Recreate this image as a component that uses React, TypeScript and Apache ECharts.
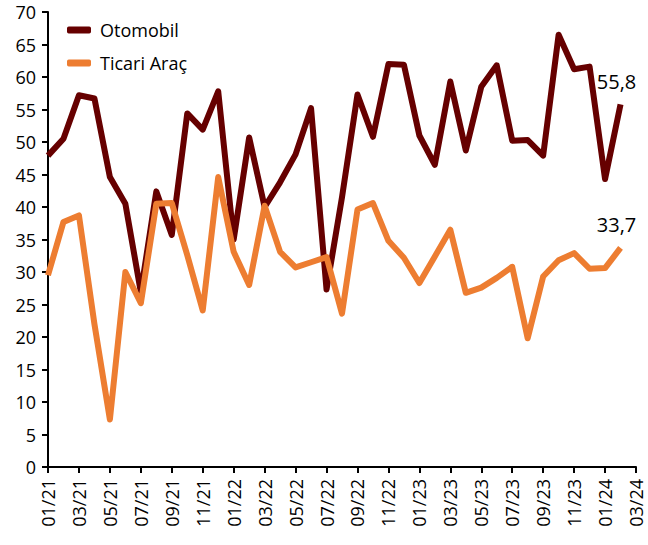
import { useEffect, useRef } from "react";
import * as echarts from "echarts";

const categories = [
  "01/21", "02/21", "03/21", "04/21", "05/21", "06/21", "07/21", "08/21", "09/21", "10/21", "11/21", "12/21",
  "01/22", "02/22", "03/22", "04/22", "05/22", "06/22", "07/22", "08/22", "09/22", "10/22", "11/22", "12/22",
  "01/23", "02/23", "03/23", "04/23", "05/23", "06/23", "07/23", "08/23", "09/23", "10/23", "11/23", "12/23",
  "01/24", "02/24", "03/24",
];

const otomobil = [
  47.9, 50.5, 57.2, 56.7, 44.6, 40.5, 26.9, 42.4, 35.7, 54.4, 51.9, 57.8,
  35.0, 50.7, 40.0, 43.8, 48.1, 55.2, 27.3, 41.5, 57.3, 50.8, 62.0, 61.9,
  51.0, 46.5, 59.3, 48.7, 58.5, 61.8, 50.2, 50.3, 47.9, 66.5, 61.2, 61.6,
  44.3, 55.8,
];

const ticariArac = [
  29.5, 37.7, 38.7, 22.0, 7.3, 30.0, 25.2, 40.5, 40.6, 32.6, 24.1, 44.6,
  33.1, 28.0, 40.2, 33.1, 30.7, 31.5, 32.3, 23.6, 39.6, 40.6, 34.8, 32.2,
  28.3, 32.4, 36.5, 26.8, 27.6, 29.1, 30.8, 19.8, 29.3, 31.8, 32.9, 30.5,
  30.6, 33.7,
];

const seriesNames = ["Otomobil", "Ticari Araç"];
const FONT = "'Open Sans', 'Noto Sans', sans-serif";

function withLastLabel(arr: number[]) {
  return arr.map((v, i) =>
    i === arr.length - 1
      ? {
          value: v,
          label: {
            show: true,
            position: "top",
            distance: 13,
            offset: [-4, 0],
            fontSize: 20,
            fontFamily: FONT,
            color: "#000",
            formatter: (p: any) => String(p.value).replace(".", ","),
          },
        }
      : v
  );
}

export default function App() {
  const ref = useRef<HTMLDivElement>(null);
  useEffect(() => {
    document.body.style.margin = "0";
    const chart = echarts.init(ref.current!, null, { renderer: "svg" });
    chart.setOption({
      animation: false,
      backgroundColor: "#fff",
      textStyle: { fontFamily: FONT },
      grid: { left: 48, right: 12, top: 12, bottom: 78, containLabel: false },
      legend: {
        orient: "vertical",
        left: 62,
        top: 15,
        icon: "roundRect",
        itemWidth: 24,
        itemHeight: 7,
        itemGap: 13,
        data: seriesNames,
        textStyle: {
          fontSize: 18,
          fontFamily: FONT,
          color: "#000",
          lineHeight: 20,
          padding: [0, 0, 0, 4],
        },
      },
      xAxis: {
        type: "category",
        data: categories,
        boundaryGap: false,
        axisLine: { show: true, lineStyle: { color: "#000", width: 2 } },
        axisTick: { show: true, interval: 1, length: 6, lineStyle: { color: "#000", width: 2 } },
        axisLabel: {
          interval: 1,
          rotate: 90,
          margin: 12,
          fontSize: 18,
          lineHeight: 15,
          fontFamily: FONT,
          color: "#000",
        },
        splitLine: { show: false },
      },
      yAxis: {
        type: "value",
        min: 0,
        max: 70,
        interval: 5,
        axisLine: { show: true, lineStyle: { color: "#000", width: 2 } },
        axisTick: { show: true, length: 6, lineStyle: { color: "#000", width: 2 } },
        axisLabel: { fontSize: 18, lineHeight: 15, fontFamily: FONT, color: "#000", margin: 12 },
        splitLine: { show: false },
      },
      series: [
        {
          name: seriesNames[0],
          type: "line",
          data: withLastLabel(otomobil),
          symbol: "circle",
          symbolSize: 0,
          showSymbol: true,
          itemStyle: { color: "#660000" },
          lineStyle: { color: "#660000", width: 6, join: "round" },
        },
        {
          name: seriesNames[1],
          type: "line",
          data: withLastLabel(ticariArac),
          symbol: "circle",
          symbolSize: 0,
          showSymbol: true,
          itemStyle: { color: "#ED7D31" },
          lineStyle: { color: "#ED7D31", width: 6, join: "round" },
        },
      ],
    });
    return () => chart.dispose();
  }, []);
  return <div ref={ref} style={{ width: 648, height: 545 }} />;
}
